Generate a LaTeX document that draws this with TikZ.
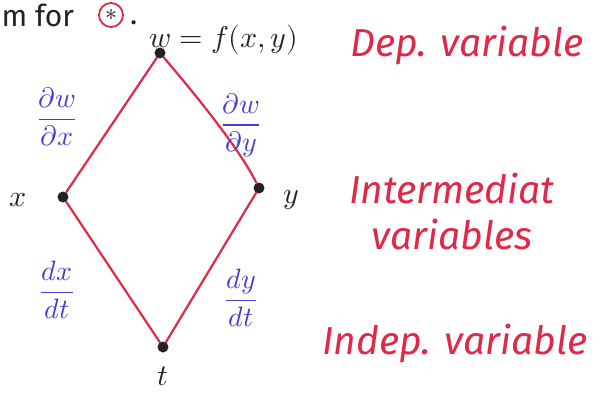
\documentclass[tikz,border=0pt]{standalone}
\usepackage{amsmath}
\usepackage{fontspec}
\usepackage{unicode-math}
\setmainfont{Fira Sans}
\setmathfont{Latin Modern Math}
\definecolor{penred}{RGB}{222,42,72}
\definecolor{penblue}{RGB}{72,62,205}
\definecolor{penblack}{RGB}{35,35,35}
\begin{document}
\begin{tikzpicture}[x=1pt,y=-1pt,
  edge/.style={draw=penred,line width=2.2pt,line cap=round},
  vdot/.style={circle,fill=penblack,inner sep=0pt,minimum size=11pt},
  blk/.style={text=penblack,font=\fontsize{30}{34}\selectfont},
  redlab/.style={text=penred,font=\fontsize{39}{46}\selectfont\itshape,align=center},
  bluelab/.style={text=penblue,font=\fontsize{28}{32}\selectfont}]
\useasboundingbox (0,0) rectangle (600,392);
\fill[white] (0,0) rectangle (600,392);
% vertices
\node[vdot] (w) at (160,53) {};
\node[vdot] (x) at (63,197) {};
\node[vdot] (y) at (259,188) {};
\node[vdot] (t) at (163,347) {};
% edges
\draw[edge] (w) -- (x);
\draw[edge] (w) .. controls (200,100) and (240,150) .. (y);
\draw[edge] (x) -- (t);
\draw[edge] (y) -- (t);
% top text
\node[blk,anchor=base west] (mfor) at (-2,26) {m for};
\node[circle,draw=penred,line width=1.8pt,minimum size=24pt,inner sep=0pt,text=penblack,font=\fontsize{24}{24}\selectfont] (star) at (111,15) {$\ast$};
\node[blk,anchor=base west,inner sep=1pt] (dot) at (129,24) {.};
\node[blk] (wlab) at (224,40) {$w=f(x,y)$};
\node[blk] (xlab) at (18,200) {$x$};
\node[blk] (ylab) at (291,200) {$y$};
\node[blk] (tlab) at (163,376) {$t$};
% blue derivatives
\node[bluelab] (dwdx) at (57,117) {$\dfrac{\partial w}{\partial x}$};
\node[bluelab] (dwdy) at (241,125) {$\dfrac{\partial w}{\partial y}$};
\node[bluelab] (dxdt) at (57,290) {$\dfrac{dx}{dt}$};
\node[bluelab] (dydt) at (241,298) {$\dfrac{dy}{dt}$};
% red labels
\node[redlab] (dep) at (467,45) {Dep. variable};
\node[redlab] (inter) at (452,212) {Intermediat\\variables};
\node[redlab] (indep) at (455,343) {Indep. variable};
\end{tikzpicture}
\end{document}
